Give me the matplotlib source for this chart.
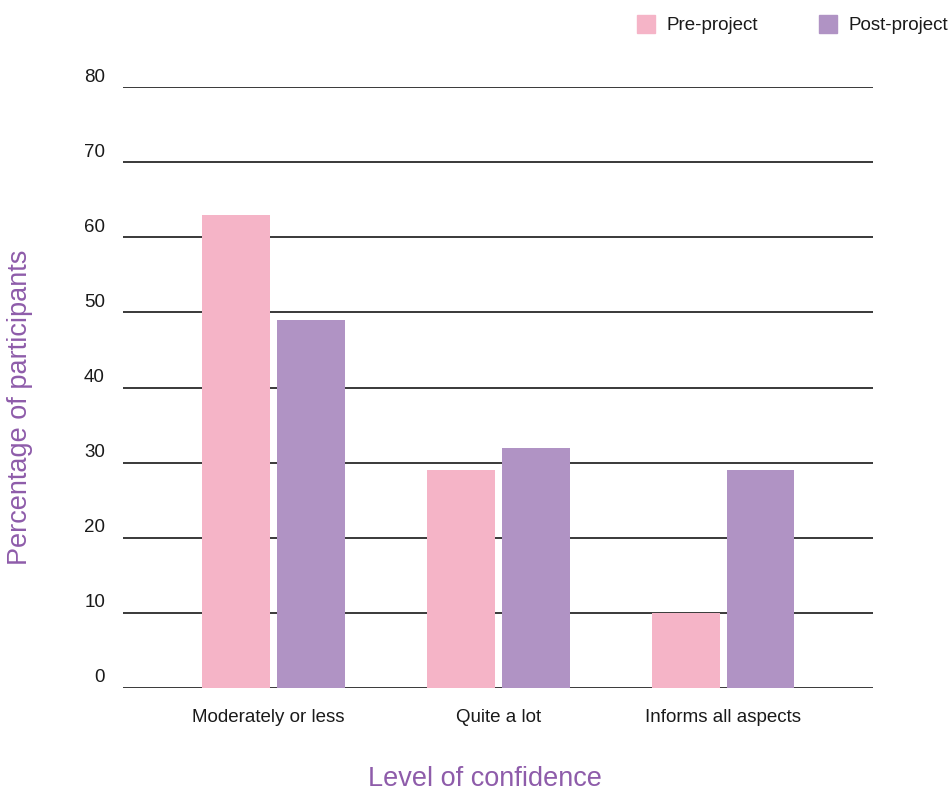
import matplotlib
matplotlib.use("Agg")
import matplotlib.pyplot as plt
import matplotlib.transforms as mtransforms
import numpy as np
from matplotlib.patches import Rectangle

categories = ["Moderately or less", "Quite a lot", "Informs all aspects"]
pre_project = [63, 29, 10]
post_project = [49, 32, 29]
series_names = ["Pre-project", "Post-project"]
yticks = [0, 10, 20, 30, 40, 50, 60, 70, 80]

pink = "#F5B4C7"
purple = "#B093C4"
label_purple = "#8E5CAA"

plt.rcParams['font.family'] = ['Liberation Sans', 'DejaVu Sans']

W, H = 951, 791
fig = plt.figure(figsize=(W/100, H/100), dpi=100)
ax = fig.add_axes([123/W, 103/H, 750/W, 601/H])

x = np.arange(len(categories))
bw = 0.302
off = 0.1667
ax.bar(x - off, pre_project, bw, color=pink, zorder=3, label=series_names[0])
ax.bar(x + off, post_project, bw, color=purple, zorder=3, label=series_names[1])

ax.set_xlim(-0.669, 2.667)
ax.set_ylim(0, 80)
for yv in yticks:
    ax.axhline(yv, color="#2a2a2a", lw=1.3, zorder=1)
    ax.annotate(str(yv), xy=(0, yv), xycoords=('figure fraction', 'data'),
                xytext=(105, 10), textcoords='offset pixels',
                ha='right', va='center', fontsize=13.5, color="#1a1a1a")
ax.set_yticks([])
ax.set_xticks(x)
ax.set_xticklabels(categories, fontsize=13.5, color="#1a1a1a")
ax.tick_params(axis='x', length=0, pad=15)
lbl0 = ax.get_xticklabels()[0]
lbl0.set_transform(lbl0.get_transform() + mtransforms.ScaledTranslation(-5/100, 0, fig.dpi_scale_trans))
for s in ax.spines.values():
    s.set_visible(False)

fig.text(20/W, 1 - 407/H, "Percentage of participants", rotation=90,
         ha='center', va='center', fontsize=19.5, color=label_purple)
fig.text(485/W, 1 - 779/H, "Level of confidence",
         ha='center', va='center', fontsize=19.5, color=label_purple)

# legend
for (x0, name, col) in [(637, series_names[0], pink), (819, series_names[1], purple)]:
    fig.patches.append(Rectangle((x0/W, 1 - 33/H), 18/W, 18/H, color=col,
                                 transform=fig.transFigure, figure=fig))
    fig.text((x0 + 29)/W, 1 - 25/H, name, ha='left', va='center',
             fontsize=13.5, color="#1a1a1a")

fig.savefig("out.png", dpi=100)
